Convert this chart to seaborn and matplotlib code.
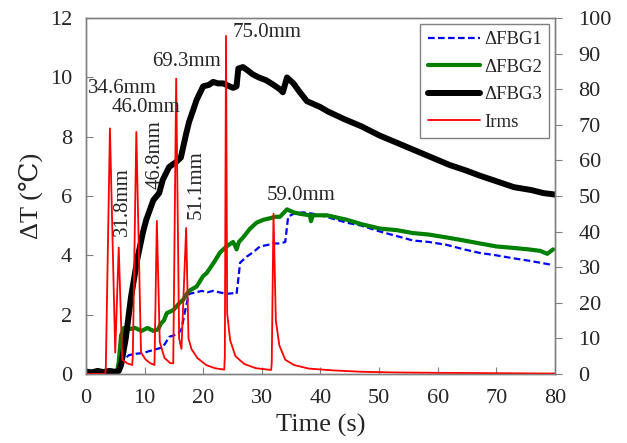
import matplotlib
matplotlib.use("Agg")
import matplotlib.pyplot as plt
import seaborn as sns

# ---------------- data ----------------
# Irms pulses (right axis)
irms_t = [0, 3.3, 3.4, 4.1, 5.0, 5.6, 6.2, 7.0, 7.9, 8.0, 8.6, 9.4, 10.2, 11.0, 11.7,
          12.1, 12.6, 13.4, 14.4, 14.9, 15.4, 15.9, 16.3, 17.1, 17.5, 18.0, 19.0, 20.5,
          22.0, 23.6, 23.7, 23.9, 24.1, 24.6, 25.5, 27.0, 29.0, 31.6, 31.7, 32.0, 32.4,
          33.0, 34.0, 35.5, 38.0, 42.0, 47.0, 53.0, 60.0, 70.0, 80.0]
irms_v = [0, 0, 2, 69, 6, 35.5, 4, 3, 2.5, 5, 68, 6, 4, 3, 2.5,
          43, 9, 4.5, 3, 3, 83, 10, 7, 41, 10, 7, 4.5, 2.5,
          1.6, 1.2, 5, 95, 17, 9.5, 5, 2.8, 1.6, 1.1, 3, 45, 15,
          8, 4, 2.5, 1.5, 1.0, 0.6, 0.4, 0.3, 0.2, 0.1]

# dFBG1 (blue dashed)
fbg1_t = [0, 4, 5.5, 6.0, 6.6, 7.3, 8.5, 9.7, 10.5, 11.4, 12.3, 13.1, 13.6, 14.2, 15.0,
          15.9, 16.3, 16.7, 17.1, 17.6, 18.8, 19.8, 20.7, 21.7, 22.8, 24.0, 25.0, 25.7,
          26.0, 26.3, 27.4, 28.5, 29.7, 31.0, 32.0, 33.1, 34.0, 34.5, 35.4, 37.0, 38.8,
          41.0, 44.5, 47.0, 50.2, 53.0, 55.8, 58.5, 61.6, 64.5, 67.2, 70.0, 72.9, 75.5,
          77.5, 79.7]
fbg1_v = [0.05, 0.05, 0.05, 0.35, 0.5, 0.63, 0.68, 0.7, 0.75, 0.8, 0.85, 0.9, 1.05, 1.25, 1.3,
          1.4, 1.5, 1.9, 2.3, 2.7, 2.75, 2.8, 2.75, 2.8, 2.75, 2.7, 2.72, 2.7,
          3.2, 3.75, 3.95, 4.1, 4.3, 4.35, 4.4, 4.4, 4.45, 5.3, 5.4, 5.45, 5.4,
          5.3, 5.1, 5.0, 4.8, 4.65, 4.5, 4.45, 4.35, 4.2, 4.08, 4.0, 3.9, 3.82,
          3.75, 3.67]

# dFBG2 (green)
fbg2_t = [0, 5.3, 5.6, 6.0, 6.5, 7.2, 8.4, 9.5, 10.5, 11.5, 12.3, 12.8, 13.3, 13.8, 14.9,
          16.0, 16.6, 17.2, 17.6, 18.9, 20.0, 20.6, 21.8, 22.9, 24.0, 25.1, 25.5, 25.7,
          26.1, 26.8, 28.0, 29.1, 30.3, 31.4, 32.3, 33.1, 34.3, 35.4, 36.5, 38.2, 38.4,
          38.7, 41.1, 44.5, 47.0, 50.2, 53.0, 55.8, 58.5, 61.6, 64.5, 67.2, 70.0, 72.9,
          75.5, 77.5, 78.7, 79.7]
fbg2_v = [0.05, 0.05, 0.4, 1.3, 1.55, 1.5, 1.55, 1.45, 1.55, 1.45, 1.5, 1.7, 1.8, 2.05, 2.15,
          2.4, 2.5, 2.7, 2.8, 2.95, 3.3, 3.4, 3.75, 4.1, 4.3, 4.45, 4.3, 4.2,
          4.45, 4.6, 4.9, 5.1, 5.2, 5.25, 5.3, 5.3, 5.55, 5.45, 5.4, 5.35, 5.15,
          5.35, 5.35, 5.2, 5.05, 4.9, 4.85, 4.75, 4.7, 4.6, 4.5, 4.4, 4.3, 4.25,
          4.2, 4.15, 4.05, 4.2]

# dFBG3 (black, thick)
fbg3_t = [0, 1, 2, 3, 4, 5.0, 5.6, 6.0, 6.8, 7.7, 8.8, 9.7, 10.3, 11.5, 12.5, 13.1, 14.2,
          15.4, 16.2, 17.1, 17.6, 18.3, 18.9, 20.0, 21.0, 21.7, 22.5, 23.4, 24.5, 25.1,
          25.7, 26.0, 26.8, 27.5, 28.5, 29.5, 30.8, 32.0, 33.1, 33.6, 34.3, 35.4, 36.5,
          37.7, 40.0, 41.3, 44, 47, 50, 53, 56, 59, 62, 65, 67, 70, 73, 76, 78, 80]
fbg3_v = [0.08, 0.05, 0.1, 0.06, 0.1, 0.07, 0.1, 0.3, 1.2, 2.6, 3.9, 4.75, 5.2, 5.86, 6.1, 6.54, 6.98,
          7.15, 7.3, 8.1, 8.5, 8.9, 9.25, 9.7, 9.75, 9.85, 9.8, 9.8, 9.7, 9.65,
          9.7, 10.3, 10.35, 10.25, 10.1, 10.0, 9.9, 9.75, 9.6, 9.5, 10.0, 9.8, 9.5,
          9.2, 9.0, 8.85, 8.6, 8.35, 8.05, 7.8, 7.55, 7.3, 7.05, 6.85, 6.7, 6.5, 6.3, 6.2, 6.1, 6.05]

# distance labels: text, x, y (left-axis units), rotation
labels_txt = ["34.6mm", "46.0mm", "69.3mm", "75.0mm", "59.0mm", "31.8mm", "46.8mm", "51.1mm"]
labels_x = [6.3, 10.3, 17.1, 30.9, 36.7, 6.2, 11.8, 18.8]
labels_y = [9.64, 8.97, 10.55, 11.53, 6.03, 5.8, 7.38, 6.4]
labels_rot = [0, 0, 0, 0, 0, 90, 90, 90]

# ---------------- figure ----------------
sns.set_style("ticks")
plt.rcParams['font.family'] = ['Liberation Serif', 'DejaVu Serif', 'DejaVu Sans']

fig = plt.figure(figsize=(6.27, 4.43), dpi=100)
ax = fig.add_axes([0.137, 0.156, 0.748, 0.803])
ax2 = ax.twinx()

sns.lineplot(x=fbg1_t, y=fbg1_v, ax=ax, color='#0000ff', lw=1.6,
             linestyle=(0, (3, 1.5)), label='ΔFBG1')
sns.lineplot(x=fbg2_t, y=fbg2_v, ax=ax, color='#008000', lw=3.0, label='ΔFBG2')
sns.lineplot(x=fbg3_t, y=fbg3_v, ax=ax, color='black', lw=4.3, label='ΔFBG3')
sns.lineplot(x=irms_t, y=irms_v, ax=ax2, color='#ff0000', lw=1.3, label='Irms')

ax.set_xlim(0, 80)
ax.set_ylim(0, 12)
ax2.set_ylim(0, 100)
ax.set_xticks(range(0, 81, 10))
ax.set_yticks(range(0, 13, 2))
ax2.set_yticks(range(0, 101, 10))

ax.tick_params(axis='x', direction='in', labelsize=16, length=5, color='#808080', pad=11)
ax.tick_params(axis='y', direction='in', labelsize=16, length=5, color='#808080', pad=10)
ax2.tick_params(axis='y', direction='out', labelsize=16, length=5, color='#808080', pad=12)
for a in (ax, ax2):
    for s in a.spines.values():
        s.set_color('#808080')
        s.set_linewidth(1.0)

ax.set_xlabel('Time (s)', fontsize=19, labelpad=4)
ax.set_ylabel('ΔT (℃)', fontsize=19, labelpad=5)
ax2.set_ylabel('')

for txt, x, y, r in zip(labels_txt, labels_x, labels_y, labels_rot):
    ax2.text(x, y * 100 / 12, txt, rotation=r, ha='center', va='center', fontsize=15)

# one legend with all four series
h1, l1 = ax.get_legend_handles_labels()
h2, l2 = ax2.get_legend_handles_labels()
ax.get_legend().remove()
ax2.get_legend().remove()
leg = ax2.legend(h1 + h2, l1 + l2, loc='upper right', fontsize=13.5, frameon=True,
                 fancybox=False, edgecolor='#808080', framealpha=1,
                 handlelength=2.8, handletextpad=0.2, labelspacing=0.55,
                 borderaxespad=0.3, borderpad=0.4)
leg.get_frame().set_linewidth(1.0)

fig.savefig('out.png', dpi=100)
